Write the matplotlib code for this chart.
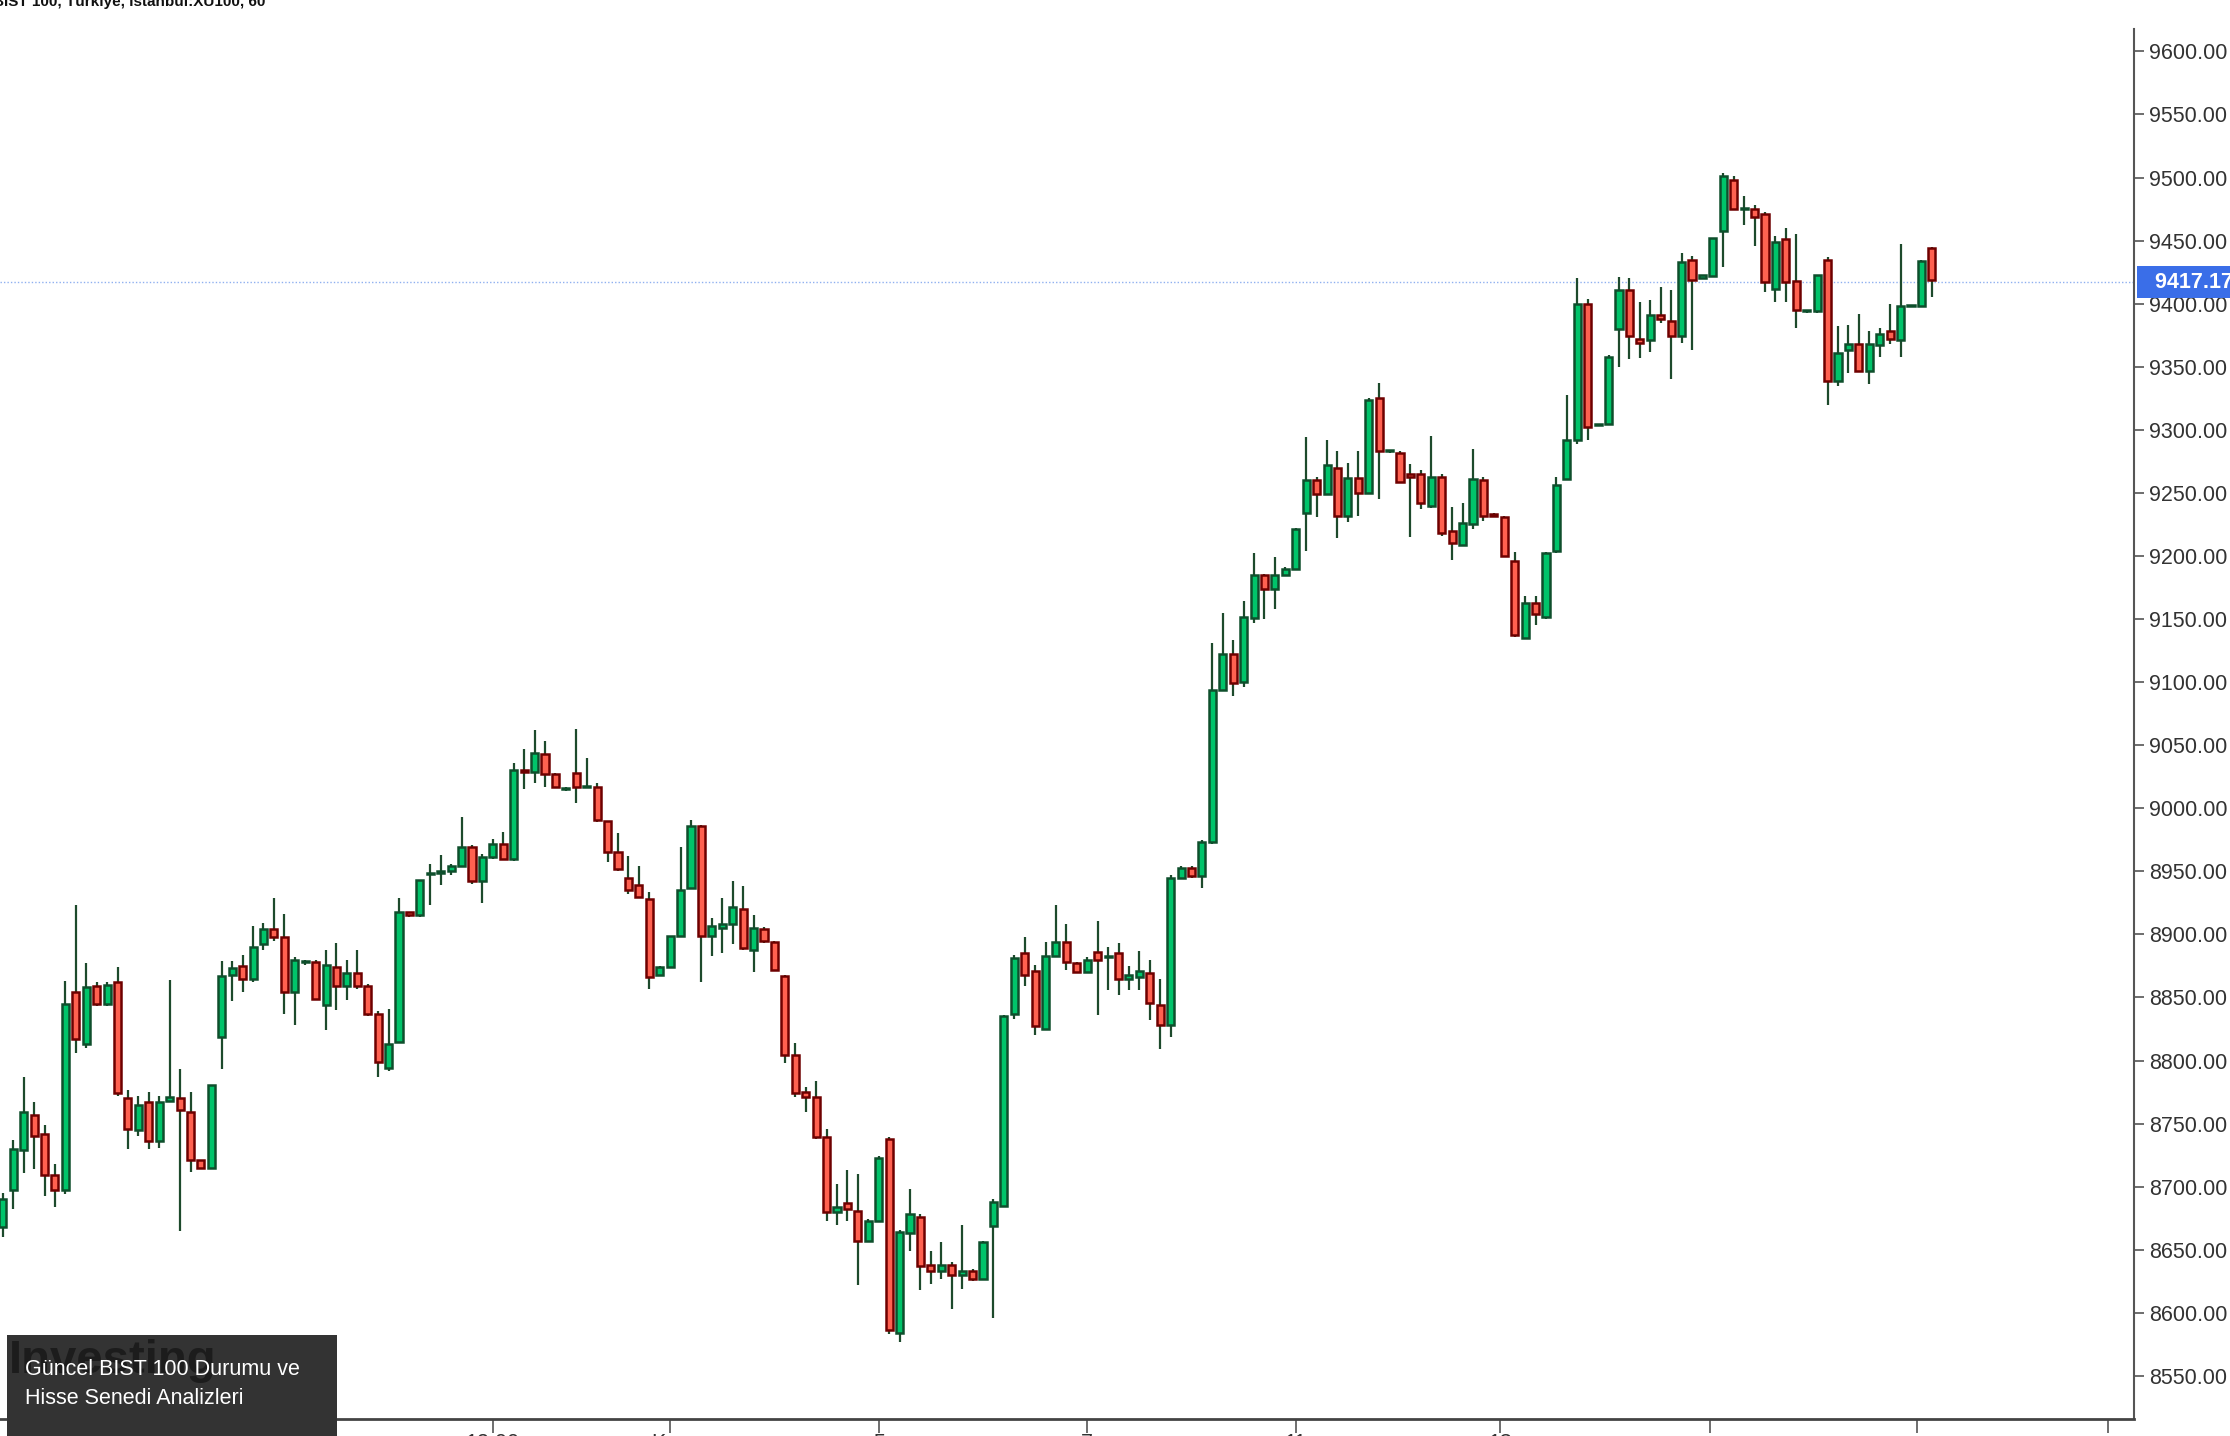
import matplotlib
matplotlib.use("Agg")
import matplotlib.pyplot as plt
from matplotlib.patches import Rectangle

opens = [8668,8697,8729,8757,8742,8709,8697,8854,8813,8859,8845,8862,8770,8745,8767,8736,8768,8770,8759,8721,
         8715,8819,8868,8875,8865,8892,8904,8898,8854,8878,8878,8844,8874,8859,8869,8859,8837,8794,8815,8918,
         8915,8948,8949,8950,8954,8969,8942,8961,8972,8960,9030,9029,9043,9027,9015,9028,9017,9017,8990,8965,
         8945,8939,8928,8868,8874,8899,8937,8986,8899,8905,8908,8920,8888,8904,8894,8867,8804,8775,8771,8739,
         8680,8687,8681,8657,8673,8738,8584,8663,8676,8638,8633,8638,8630,8633,8627,8669,8685,8837,8885,8871,
         8825,8883,8894,8877,8870,8886,8882,8885,8865,8866,8869,8844,8828,8945,8953,8946,8973,9094,9122,9100,
         9151,9185,9174,9185,9190,9234,9260,9249,9270,9232,9262,9250,9325,9283,9282,9265,9265,9240,9263,9220,
         9209,9225,9260,9233,9231,9196,9135,9163,9152,9204,9261,9292,9400,9304,9305,9380,9411,9372,9371,9391,
         9386,9374,9435,9420,9422,9458,9498,9475,9475,9471,9412,9451,9418,9394,9394,9435,9339,9363,9368,9347,
         9367,9378,9371,9398,9398,9444]
highs = [8695,8737,8787,8767,8749,8718,8863,8923,8877,8862,8862,8874,8777,8772,8775,8772,8864,8793,8775,8721,
         8781,8879,8879,8884,8907,8909,8929,8916,8882,8880,8880,8888,8893,8880,8888,8861,8839,8841,8929,8918,
         8943,8956,8963,8956,8993,8971,8964,8976,8981,9036,9047,9062,9053,9028,9017,9063,9040,9020,8990,8980,
         8962,8954,8934,8875,8899,8969,8991,8987,8913,8929,8942,8938,8915,8906,8895,8868,8814,8779,8784,8746,
         8702,8713,8710,8674,8724,8739,8666,8698,8678,8649,8656,8640,8670,8635,8657,8690,8836,8884,8898,8876,
         8894,8923,8908,8878,8882,8911,8890,8893,8875,8887,8880,8865,8947,8954,8954,8975,9131,9155,9133,9164,
         9202,9186,9199,9191,9222,9294,9263,9292,9283,9274,9283,9325,9337,9284,9283,9273,9268,9295,9265,9239,
         9242,9285,9263,9234,9232,9203,9168,9168,9203,9263,9328,9420,9404,9305,9359,9421,9420,9401,9403,9413,
         9411,9440,9438,9423,9452,9504,9501,9485,9478,9473,9454,9460,9455,9395,9423,9437,9382,9383,9392,9378,
         9381,9400,9447,9399,9435,9445]
lows = [8660,8682,8711,8714,8693,8684,8694,8806,8810,8843,8843,8772,8730,8740,8730,8731,8768,8665,8712,8715,
        8715,8793,8847,8854,8862,8888,8895,8837,8828,8876,8848,8824,8840,8848,8857,8835,8787,8792,8815,8914,
        8914,8923,8939,8947,8954,8940,8925,8960,8959,8958,9015,9020,9017,9016,9014,9004,9016,8989,8957,8950,
        8932,8929,8857,8867,8874,8898,8936,8862,8883,8885,8892,8888,8870,8893,8871,8798,8771,8759,8738,8673,
        8670,8673,8622,8656,8672,8583,8577,8649,8618,8623,8627,8603,8619,8625,8626,8596,8684,8833,8859,8820,
        8825,8882,8872,8869,8869,8836,8856,8852,8856,8856,8832,8809,8819,8944,8945,8937,8972,9093,9089,9096,
        9147,9150,9158,9184,9189,9204,9231,9248,9214,9227,9232,9249,9245,9282,9258,9215,9237,9238,9216,9197,
        9208,9221,9228,9231,9199,9136,9134,9145,9150,9202,9260,9289,9292,9303,9304,9350,9356,9357,9362,9385,
        9340,9369,9363,9420,9421,9429,9474,9462,9446,9409,9401,9401,9381,9393,9393,9320,9335,9345,9346,9336,
        9358,9368,9358,9397,9397,9405]
closes = [8690,8730,8759,8740,8709,8697,8845,8817,8858,8845,8860,8774,8746,8765,8736,8767,8771,8761,8721,8715,
          8781,8867,8873,8865,8890,8904,8898,8854,8880,8878,8849,8876,8859,8869,8859,8837,8799,8813,8918,8915,
          8943,8949,8950,8954,8969,8942,8961,8972,8960,9030,9029,9044,9027,9017,9015,9017,9017,8991,8965,8952,
          8935,8930,8866,8874,8899,8935,8986,8899,8907,8908,8922,8889,8905,8895,8872,8804,8774,8771,8739,8680,
          8684,8682,8657,8673,8723,8586,8664,8678,8637,8633,8638,8630,8633,8627,8656,8688,8835,8881,8868,8827,
          8883,8894,8878,8870,8880,8880,8882,8865,8868,8871,8846,8828,8945,8953,8946,8973,9094,9122,9099,9152,
          9185,9174,9185,9190,9221,9260,9249,9272,9232,9262,9250,9324,9283,9283,9259,9263,9242,9263,9218,9210,
          9226,9261,9232,9232,9200,9137,9163,9154,9202,9256,9292,9400,9302,9304,9358,9411,9374,9369,9391,9388,
          9374,9433,9419,9423,9452,9501,9475,9475,9469,9417,9449,9417,9395,9394,9423,9339,9361,9368,9347,9368,
          9376,9372,9398,9398,9434,9419]

ytick_vals = [8550, 8600, 8650, 8700, 8750, 8800, 8850, 8900, 8950, 9000, 9050, 9100,
              9150, 9200, 9250, 9300, 9350, 9400, 9450, 9500, 9550, 9600]
xtick_pos = [10, 30, 47, 64, 84, 104, 124, 143.6, 163.7, 183.6, 201.9]
xtick_labels = ["23", "25", "12:00", "Kas", "5", "7", "11", "13", "", "", ""]
last_price = 9417.17

UP_FACE, UP_EDGE = "#00c46a", "#0e4f2c"
DN_FACE, DN_EDGE = "#ff6150", "#6e0000"
WICK = "#1d4a2c"

fig = plt.figure(figsize=(22.30, 14.36), dpi=100)
ax = fig.add_axes([0.0, 0.012, 0.957, 0.968])

w = 0.68
for i, (o, h, l, c) in enumerate(zip(opens, highs, lows, closes)):
    up = c >= o
    ax.vlines(i, l, h, color=WICK, linewidth=1.6, zorder=2)
    bot = min(o, c)
    hgt = max(abs(c - o), 0.8)
    ax.add_patch(Rectangle((i - w / 2, bot), w, hgt,
                           facecolor=UP_FACE if up else DN_FACE,
                           edgecolor=UP_EDGE if up else DN_EDGE,
                           linewidth=1.8, zorder=3))

ax.axhline(last_price, color="#8fb0f0", linewidth=1.0, linestyle=(0, (1, 1.5)), zorder=1)

ax.set_xlim(-0.27, 204.4)
ax.set_ylim(8516, 9618)

ax.yaxis.tick_right()
ax.set_yticks(ytick_vals)
ax.set_yticklabels([f"{v:.2f}" for v in ytick_vals], fontsize=15.5, color="#333333",
                   family="Liberation Sans")
ax.tick_params(axis="y", length=7, width=1.2, color="#555555", pad=4)
ax.set_xticks(xtick_pos)
ax.set_xticklabels(xtick_labels, fontsize=15.5, color="#333333", family="Liberation Sans")
ax.tick_params(axis="x", length=10, width=1.2, color="#555555", pad=0)

for s in ["top", "left"]:
    ax.spines[s].set_visible(False)
ax.spines["right"].set_color("#555555")
ax.spines["right"].set_linewidth(1.5)
ax.spines["bottom"].set_color("#444444")
ax.spines["bottom"].set_linewidth(2.0)

ax.text(1.004, last_price, "  9417.17  ", transform=ax.get_yaxis_transform(),
        ha="left", va="center", fontsize=15.5, fontweight="bold", color="white",
        family="Liberation Sans",
        bbox=dict(boxstyle="square,pad=0.25", facecolor="#3a6ee8", edgecolor="none"),
        zorder=10, clip_on=False)

fig.text(-0.003, 0.999, "BIST 100, Türkiye, İstanbul:XU100, 60", ha="left", va="center",
         fontsize=11, fontweight="bold", color="#111111", family="Liberation Sans")

fig.patches.append(Rectangle((0.003, 0.0), 0.148, 0.07, transform=fig.transFigure,
                             facecolor="#333333", edgecolor="none", zorder=20))
fig.text(0.004, 0.052, "Investing", fontsize=34, fontweight="bold", color="#1c1c1c",
         family="Liberation Sans", va="center", zorder=21)
fig.text(0.011, 0.046, "Güncel BIST 100 Durumu ve", fontsize=15.5, color="white",
         family="Liberation Sans", va="center", zorder=22)
fig.text(0.011, 0.026, "Hisse Senedi Analizleri", fontsize=15.5, color="white",
         family="Liberation Sans", va="center", zorder=22)

fig.savefig("out.png", dpi=100, facecolor="white")
